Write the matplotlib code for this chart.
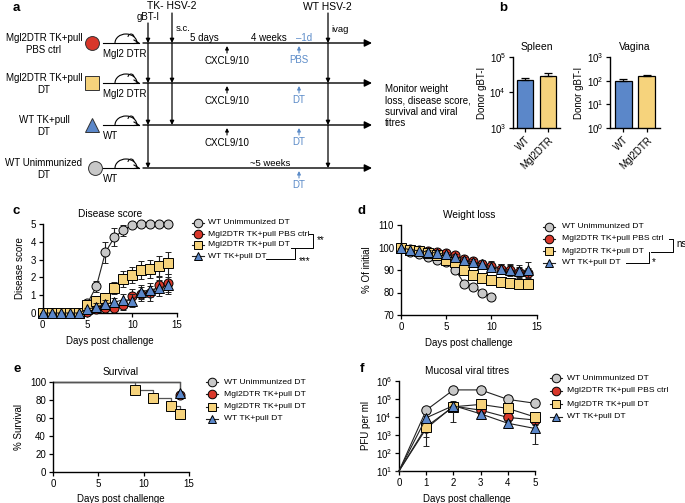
import matplotlib
matplotlib.use("Agg")
import matplotlib.pyplot as plt
from matplotlib.patches import Arc

plt.rcParams['font.family'] = ['Liberation Sans', 'DejaVu Sans']

W, H = 685, 503

# ---- data ----
group_names = ["WT Unimmunized DT", "Mgl2DTR TK+pull PBS ctrl",
               "Mgl2DTR TK+pull DT", "WT TK+pull DT"]
surv_names = ["WT Unimmunized DT", "Mgl2DTR TK+pull DT",
              "Mgl2DTR TK+pull DT", "WT TK+pull DT"]

# b: donor gBT-I
bar_groups = ["WT", "Mgl2DTR"]
spleen_vals = [2.3e4, 2.9e4]
spleen_err = [3e3, 7e3]
vagina_vals = [95, 150]
vagina_err = [25, 25]

# c: disease score
days = list(range(15))
dis_gray = [0, 0, 0, 0, 0, 0.55, 1.5, 3.4, 4.25, 4.65, 4.95, 5, 5, 5, 5]
dis_gray_err = [0, 0, 0, 0, 0, 0.15, 0.3, 0.6, 0.5, 0.3, 0.1, 0, 0, 0, 0]
dis_red = [0, 0, 0, 0, 0, 0.05, 0.2, 0.3, 0.3, 0.45, 0.95, 1.05, 1.1, 1.55, 1.7]
dis_red_err = [0, 0, 0, 0, 0, 0.05, 0.15, 0.2, 0.2, 0.3, 0.4, 0.4, 0.4, 0.45, 0.5]
dis_yel = [0, 0, 0, 0, 0, 0.45, 0.7, 0.85, 1.4, 1.9, 2.15, 2.4, 2.45, 2.65, 2.8]
dis_yel_err = [0, 0, 0, 0, 0, 0.2, 0.25, 0.3, 0.35, 0.45, 0.45, 0.5, 0.5, 0.55, 0.6]
dis_blue = [0, 0, 0, 0, 0, 0.2, 0.35, 0.5, 0.6, 0.75, 0.7, 1.2, 1.3, 1.4, 1.55]
dis_blue_err = [0, 0, 0, 0, 0, 0.1, 0.2, 0.25, 0.25, 0.3, 0.35, 0.4, 0.4, 0.45, 0.5]

# d: weight loss
days_gray_w = list(range(11))
w_gray = [100, 98.2, 97.2, 96, 94.5, 93.5, 90, 84, 82.5, 80, 78.2]
w_gray_err = [0, 0.5, 0.5, 0.8, 1, 1, 1.2, 1.5, 1, 1, 1.2]
w_red = [100, 99.5, 99, 98.5, 98, 97.5, 96.5, 95, 94, 92.5, 92, 90.5, 90, 89, 88.5]
w_red_err = [0, 0.4, 0.5, 0.6, 0.7, 0.8, 0.9, 1, 1.2, 1.5, 1.8, 2, 2.2, 2.4, 2.5]
w_yel = [100, 99, 98.5, 97.5, 96.5, 94.5, 93.5, 89.8, 87.7, 86.6, 85.6, 84.5, 84.4, 84, 83.6]
w_yel_err = [0, 0.5, 0.5, 0.6, 0.8, 1, 1.2, 1.5, 1.6, 1.7, 1.8, 1.9, 2, 2, 2]
w_blue = [100, 99, 98.5, 98, 97.5, 97, 96, 94.5, 93.5, 92.5, 91.5, 90.5, 90, 89.5, 90]
w_blue_err = [0, 0.5, 0.6, 0.7, 0.8, 0.9, 1, 1.2, 1.5, 1.8, 2, 2.3, 2.5, 2.8, 3.5]

# e: survival (event times / % surviving)
surv_gray_t, surv_gray = [0, 14], [100, 100]
surv_red_t, surv_red = [0, 14], [100, 86]
surv_yel_t, surv_yel = [0, 9, 11, 13, 14], [100, 91, 82, 73, 64]
surv_blue_t, surv_blue = [0, 14], [100, 88]

# f: mucosal viral titres
days_f = [0, 1, 2, 3, 4, 5]
v_gray = [10, 2.4e4, 3.2e5, 3.2e5, 9.5e4, 5.8e4]
v_gray_err = [0, 5e3, 3e4, 3e4, 1.5e4, 1e4]
v_red = [10, 2.3e3, 4e4, 2.4e4, 9.5e3, 6.8e3]
v_red_err = [0, 1.5e3, 1.5e4, 8e3, 4e3, 3e3]
v_yel = [10, 2.9e3, 3.7e4, 5e4, 3e4, 1e4]
v_yel_err = [0, 2.65e3, 1e4, 1.5e4, 1e4, 4e3]
v_blue = [10, 9e3, 4.3e4, 1.5e4, 4.5e3, 2.3e3]
v_blue_err = [0, 3e3, 3.8e4, 5e3, 2.2e3, 2e3]

# ---- styles ----
GRAY, RED, YEL, BLUE = '#c8c8c8', '#d8372a', '#f6d37c', '#5b87c9'
SBLUE = '#5b8bc8'
LINE = '#222222'
colors = [GRAY, RED, YEL, BLUE]
markers = ['o', 'o', 's', '^']

fig = plt.figure(figsize=(W / 100, H / 100), dpi=100)


def px_axes(x0, y0, x1, y1):
    return fig.add_axes([x0 / W, 1 - y1 / H, (x1 - x0) / W, (y1 - y0) / H])


def prism(ax):
    for s in ['top', 'right']:
        ax.spines[s].set_visible(False)
    for s in ['left', 'bottom']:
        ax.spines[s].set_linewidth(1)
    ax.tick_params(direction='out', length=3, width=0.9, labelsize=7, pad=2)


def series(ax, x, y, err, i, ms=6.5):
    ax.errorbar(x, y, yerr=err, marker=markers[i], ms=ms, mfc=colors[i],
                mec='k', mew=0.7, color=LINE, lw=0.8, ecolor=LINE,
                elinewidth=0.8, capsize=2, capthick=0.8, zorder=3 + i)


def unclip(ax):
    for a in ax.get_children():
        if hasattr(a, 'set_clip_on') and a not in ax.spines.values():
            a.set_clip_on(False)


# ---- b ----
for (x0, x1), vals, errs, lims, ticks, title in [
        ((513, 560), spleen_vals, spleen_err, (1e3, 1e5), [1e3, 1e4, 1e5], "Spleen"),
        ((610, 660), vagina_vals, vagina_err, (1e0, 1e3), [1e0, 1e1, 1e2, 1e3], "Vagina")]:
    ax = px_axes(x0, 57, x1, 128)
    prism(ax)
    ax.set_yscale('log')
    ax.bar(range(len(bar_groups)), vals, width=0.72, color=[BLUE, YEL],
           edgecolor='k', linewidth=0.9,
           yerr=[[0] * len(errs), errs], capsize=3,
           error_kw=dict(elinewidth=0.9, capthick=0.9, ecolor='k'))
    ax.set_ylim(*lims)
    ax.set_xlim(-0.55, 1.55)
    ax.set_yticks(ticks)
    ax.minorticks_off()
    ax.set_xticks(range(len(bar_groups)))
    ax.set_xticklabels(bar_groups, rotation=45, ha='right', rotation_mode='anchor')
    ax.set_ylabel("Donor gBT-I", fontsize=7, labelpad=2)
    ax.set_title(title, fontsize=7.5, pad=5)

# ---- c ----
ax = px_axes(42.7, 224, 177, 313)
prism(ax)
series(ax, days, dis_gray, dis_gray_err, 0)
series(ax, days, dis_yel, dis_yel_err, 2)
series(ax, days, dis_red, dis_red_err, 1)
series(ax, days, dis_blue, dis_blue_err, 3)
ax.set_xlim(0, 15)
ax.set_ylim(0, 5)
ax.set_xticks([0, 5, 10, 15])
ax.set_yticks(range(6))
ax.set_xlabel("Days post challenge", fontsize=7, labelpad=4)
ax.set_ylabel("Disease score", fontsize=7, labelpad=4)
ax.set_title("Disease score", fontsize=7.3, pad=5)
unclip(ax)

# ---- d ----
ax = px_axes(401, 225, 536.7, 315)
prism(ax)
series(ax, days_gray_w, w_gray, w_gray_err, 0)
series(ax, days, w_yel, w_yel_err, 2)
series(ax, days, w_red, w_red_err, 1)
series(ax, days, w_blue, w_blue_err, 3)
ax.set_xlim(0, 15)
ax.set_ylim(70, 110)
ax.set_xticks([0, 5, 10, 15])
ax.set_yticks([70, 80, 90, 100, 110])
ax.set_xlabel("Days post challenge", fontsize=7, labelpad=4)
ax.set_ylabel("% Of initial", fontsize=7, labelpad=4)
ax.set_title("Weight loss", fontsize=7.3, pad=5)
unclip(ax)

# ---- e ----
ax = px_axes(53, 382, 189, 472)
prism(ax)
for i, (t, s) in enumerate([(surv_gray_t, surv_gray), (surv_yel_t, surv_yel),
                            (surv_red_t, surv_red), (surv_blue_t, surv_blue)]):
    ci = [0, 2, 1, 3][i]
    ax.step(t, s, where='post', color='#555555', lw=0.9, zorder=2)
    if ci != 0:
        ax.plot(t[1:], s[1:], ls='none', marker=markers[ci], ms=6.5,
                mfc=colors[ci], mec='k', mew=0.7, zorder=3 + i)
ax.set_xlim(0, 15)
ax.set_ylim(0, 100)
ax.set_xticks([0, 5, 10, 15])
ax.set_yticks(range(0, 101, 20))
ax.set_xlabel("Days post challenge", fontsize=7, labelpad=4)
ax.set_ylabel("% Survival", fontsize=7, labelpad=4)
ax.set_title("Survival", fontsize=7.3, pad=5)
unclip(ax)

# ---- f ----
ax = px_axes(399, 381, 535, 471)
prism(ax)
ax.set_yscale('log')
for y, e, i in [(v_gray, v_gray_err, 0), (v_yel, v_yel_err, 2),
                (v_red, v_red_err, 1), (v_blue, v_blue_err, 3)]:
    ax.errorbar(days_f, y, yerr=e, marker=markers[i], ms=6.8, mfc=colors[i],
                mec='k', mew=0.7, color=LINE, lw=0.8, ecolor=LINE,
                elinewidth=0.8, capsize=2.5, capthick=0.8, markevery=range(1, 6),
                zorder=3 + i)
ax.set_xlim(0, 5)
ax.set_ylim(10, 1e6)
ax.set_yticks([1e1, 1e2, 1e3, 1e4, 1e5, 1e6])
ax.minorticks_off()
ax.set_xticks(days_f)
ax.set_xlabel("Days post challenge", fontsize=7, labelpad=4)
ax.set_ylabel("PFU per ml", fontsize=7, labelpad=3)
ax.set_title("Mucosal viral titres", fontsize=7.3, pad=5)
unclip(ax)

# ---- overlay: schematic, legends, letters ----
ov = fig.add_axes([0, 0, 1, 1], zorder=10)
ov.set_xlim(0, W)
ov.set_ylim(H, 0)
ov.axis('off')

for lab, (x, y) in zip("abcdef", [(16, 8), (503, 8), (16, 211), (362, 211),
                                  (17, 369), (362, 369)]):
    ov.text(x, y, lab, fontsize=9.5, fontweight='bold', ha='center', va='center')

rows_y = [43, 83, 125, 168]
row_labels = ["Mgl2DTR TK+pull\nPBS ctrl", "Mgl2DTR TK+pull\nDT",
              "WT TK+pull\nDT", "WT Unimmunized\nDT"]
row_mice = ["Mgl2 DTR", "Mgl2 DTR", "WT", "WT"]
row_marks = [(1, 'o', 92), (2, 's', 92), (3, '^', 92), (0, 'o', 95)]
treat = ["PBS", "DT", "DT", "DT"]


def arrow(x0, y0, x1, y1, ms=6, color='k', lw=0.9):
    ov.annotate('', xy=(x1, y1), xytext=(x0, y0),
                arrowprops=dict(arrowstyle='-|>', lw=lw, color=color,
                                mutation_scale=ms, shrinkA=0, shrinkB=0))


for k, y in enumerate(rows_y):
    ov.text(44, y + 1, row_labels[k], fontsize=7, ha='center', va='center',
            linespacing=1.15)
    ci, m, mx = row_marks[k]
    ov.plot(mx, y, marker=m, ms=10, mfc=colors[ci], mec='#333333', mew=0.7)
    # mouse
    ov.plot([103, 139], [y, y], color='k', lw=0.8)
    ov.add_patch(Arc((126, y), 22, 18, theta1=180, theta2=360, lw=0.8, color='k'))
    ov.add_patch(Arc((131, y - 6), 6, 6, theta1=180, theta2=360, lw=0.7, color='k'))
    ov.plot([134, 139, 134], [y - 3, y, y + 0.5], color='k', lw=0.8)
    ov.text(103, y + 11, row_mice[k], fontsize=7, ha='left', va='center')
    # timeline
    arrow(143, y, 372, y, ms=11, lw=1)
    # blue treatment
    arrow(299, y + 10, 299, y + 3, ms=5, color=SBLUE, lw=0.8)
    ov.text(299, y + 17, treat[k], fontsize=7, color=SBLUE, ha='center', va='center')
    if k < 3:
        arrow(227, y + 10, 227, y + 3, ms=5, lw=0.8)
        ov.text(227, y + 18, "CXCL9/10", fontsize=7, ha='center', va='center')

for x, ys in [(148, [23] + rows_y), (172, [13] + rows_y[:3]), (328, [13] + rows_y)]:
    for y0, y1 in zip(ys[:-1], ys[1:]):
        arrow(x, y0, x, y1, ms=6)

ov.text(172, 6, "TK- HSV-2", fontsize=7.5, ha='center', va='center')
ov.text(327, 7, "WT HSV-2", fontsize=7.5, ha='center', va='center')
ov.text(148, 17, "gBT-I", fontsize=7, ha='center', va='center')
ov.text(176, 28, "s.c.", fontsize=6.8, ha='left', va='center')
ov.text(331, 29, "ivag", fontsize=6.8, ha='left', va='center')
ov.text(204, 38, "5 days", fontsize=7, ha='center', va='center')
ov.text(269, 38, "4 weeks", fontsize=7, ha='center', va='center')
ov.text(304, 38, "\u20131d", fontsize=7, color=SBLUE, ha='center', va='center')
ov.text(270, 163, "~5 weeks", fontsize=6.8, ha='center', va='center')
ov.text(385, 106, "Monitor weight\nloss, disease score,\nsurvival and viral\ntitres",
        fontsize=7, ha='left', va='center', linespacing=1.2)


def legend_rows(xm, xt, ys, labels):
    for i, (lab, y) in enumerate(zip(labels, ys)):
        ov.plot([xm - 6, xm + 6], [y, y], color=LINE, lw=0.8)
        ov.plot(xm, y, marker=markers[i], ms=6.2, mfc=colors[i], mec='k', mew=0.7)
        ov.text(xt, y, lab, fontsize=6.1, ha='left', va='center')


legend_rows(198, 208, [223, 234, 245, 256], group_names)
legend_rows(549, 562, [227, 239, 251, 263], group_names)
legend_rows(212, 224, [382, 394, 407, 419], surv_names)
legend_rows(556, 567, [378, 391, 404, 417], group_names)

br = dict(color='k', lw=0.7)
# c brackets
ov.plot([309, 313, 313, 291], [234, 234, 248, 248], **br)
ov.plot([295, 295, 266], [248, 259, 259], **br)
ov.text(317, 240, "**", fontsize=7, ha='left', va='center')
ov.text(299, 261, "***", fontsize=7, ha='left', va='center')
# d brackets
ov.plot([669, 673, 673, 651], [239, 239, 252, 252], **br)
ov.plot([649, 649, 626], [252, 263, 263], **br)
ov.text(676, 244, "ns", fontsize=7, ha='left', va='center')
ov.text(652, 262, "*", fontsize=7, ha='left', va='center')

fig.savefig("out.png", dpi=100)
